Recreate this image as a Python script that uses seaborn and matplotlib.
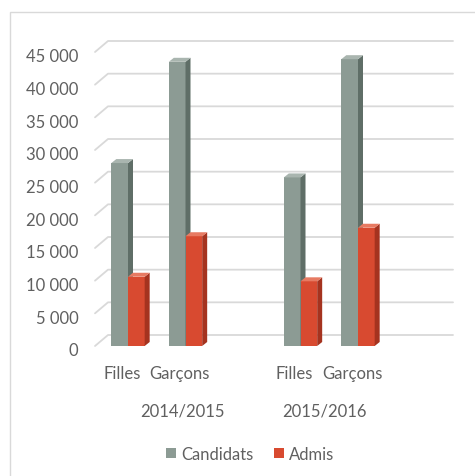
import matplotlib
matplotlib.use("Agg")
import pandas as pd
import seaborn as sns
import matplotlib.pyplot as plt
from matplotlib.patches import Polygon, Rectangle, Patch
from matplotlib.transforms import ScaledTranslation

# données
years = ["2014/2015", "2014/2015", "2015/2016", "2015/2016"]
sexes = ["Filles", "Garçons", "Filles", "Garçons"]
candidats = [28000, 43500, 25800, 43900]
admis = [10600, 16800, 9900, 18100]
series = ["Candidats", "Admis"]
yticks = [0, 5000, 10000, 15000, 20000, 25000, 30000, 35000, 40000, 45000]
ytick_labels = ["0", "5 000", "10 000", "15 000", "20 000", "25 000",
                "30 000", "35 000", "40 000", "45 000"]

colors = {"Candidats": "#8C9B94", "Admis": "#D84A30"}
side_colors = {"Candidats": "#5F6E67", "Admis": "#A5331F"}
top_colors = {"Candidats": "#A9B5AF", "Admis": "#E77A62"}
text_color = "#606060"
grid_color = "#D9D9D9"
fs = 12

sns.set_style("white")
plt.rcParams["font.family"] = ["Lato", "DejaVu Sans"]

keys = [f"{s} {y}" for s, y in zip(sexes, years)]
df = pd.DataFrame({
    "cat": keys * 2,
    "serie": [series[0]] * len(keys) + [series[1]] * len(keys),
    "value": candidats + admis,
})
order = keys[:2] + [" "] + keys[2:]

fig = plt.figure(figsize=(4.75, 4.77), dpi=100)
W, H = 475, 477
ax = fig.add_axes([95 / W, (H - 347) / H, 345 / W, 294 / H])

sns.barplot(data=df, x="cat", y="value", hue="serie", order=order,
            hue_order=series, palette=colors, width=0.58, saturation=1,
            ax=ax, legend=False, zorder=2)

xmin = -33 / 57.5
xmax = xmin + 345 / 57.5
ax.set_xlim(xmin, xmax)
ax.set_ylim(0, 45000)

# grille "3D" : petit biais à gauche puis ligne sur le mur du fond
gdx, gdy = 13 / 57.5, 11 / (294 / 45000)
for v in yticks:
    ax.plot([xmin, xmin + gdx, xmax + gdx], [v, v + gdy, v + gdy],
            color=grid_color, lw=1.3, clip_on=False, zorder=0)

# faces latérales et dessus des barres
bdx, bdy = 5 / 57.5, 4 / (294 / 45000)
n = len(keys)
for i, bar in enumerate(ax.patches[:2 * n]):
    serie = series[i // n]
    z = 2 + (i // n) * 0.5
    bar.set_zorder(z)
    bar.set_edgecolor("none")
    x0, w, h = bar.get_x(), bar.get_width(), bar.get_height()
    if h <= 0:
        continue
    side = Polygon([(x0 + w, 0), (x0 + w + bdx, bdy), (x0 + w + bdx, h + bdy), (x0 + w, h)],
                   closed=True, facecolor=side_colors[serie], edgecolor="none", zorder=z + 0.1)
    top = Polygon([(x0, h), (x0 + bdx, h + bdy), (x0 + w + bdx, h + bdy), (x0 + w, h)],
                  closed=True, facecolor=top_colors[serie], edgecolor="none", zorder=z + 0.1)
    ax.add_patch(side)
    ax.add_patch(top)

ax.set_yticks(yticks)
ax.set_yticklabels(ytick_labels)
pos = [order.index(k) for k in keys]
ax.set_xticks(pos)
ax.set_xticklabels(sexes)
ax.tick_params(axis="y", length=0, pad=12, labelsize=fs, labelcolor=text_color)
ax.tick_params(axis="x", length=0, pad=14, labelsize=fs, labelcolor=text_color)
for lab in ax.get_xticklabels():
    lab.set_transform(lab.get_transform() + ScaledTranslation(-0.06, 0, fig.dpi_scale_trans))
for lab in ax.get_yticklabels():
    lab.set_transform(lab.get_transform() + ScaledTranslation(0, -0.03, fig.dpi_scale_trans))
ax.set_xlabel("")
ax.set_ylabel("")
for sp in ax.spines.values():
    sp.set_visible(False)
ax.set_facecolor("none")

# années sous les groupes
fig.text(182 / W, 1 - 412 / H, years[0], ha="center", va="center",
         fontsize=fs, color=text_color)
fig.text(324 / W, 1 - 412 / H, years[2], ha="center", va="center",
         fontsize=fs, color=text_color)

handles = [Patch(facecolor=colors[s], edgecolor="none", label=s) for s in series]
fig.legend(handles=handles, loc="center", bbox_to_anchor=(250 / W, 1 - 455 / H),
           ncol=2, frameon=False, fontsize=fs, handlelength=0.6, handleheight=0.6,
           handletextpad=0.3, columnspacing=1.2, labelcolor=text_color)

# cadre du graphique
fig.add_artist(Rectangle((10 / W, -0.01), 1.0, (H - 13) / H + 0.01,
                         transform=fig.transFigure, fill=False,
                         edgecolor=grid_color, lw=1.0))

fig.savefig("out.png", dpi=100, facecolor="white")
